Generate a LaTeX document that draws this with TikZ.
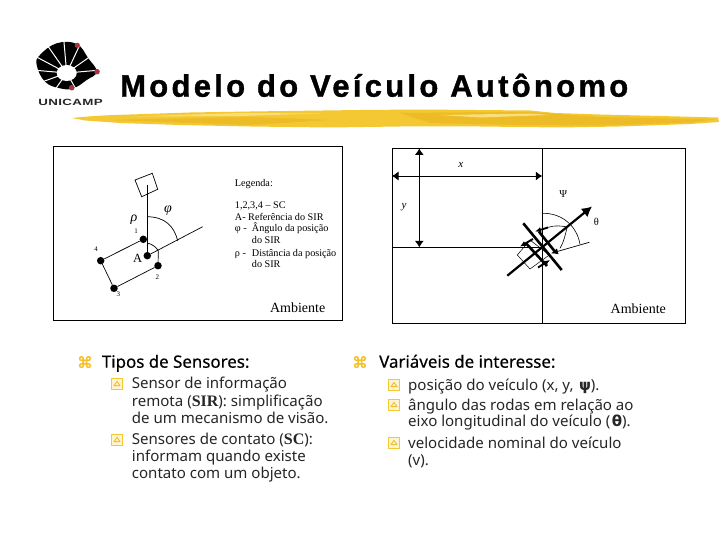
\documentclass[tikz,border=0pt]{standalone}
\usepackage{fontspec}
\setmainfont{Liberation Serif}
\newfontfamily\titlefont[LetterSpace=10.6,BoldFeatures={LetterSpace=10.6,FakeBold=1.2}]{Liberation Sans}
\newfontfamily\logofont[LetterSpace=3]{Liberation Sans}
\newfontfamily\bodyfont{Noto Sans}
\newfontfamily\headfont[FakeBold=0.4]{Noto Sans}
\newfontfamily\djv{DejaVu Sans}
\newfontfamily\bulfont[FakeBold=2.8]{DejaVu Sans}
\usetikzlibrary{arrows.meta}
\definecolor{gold}{HTML}{F3C832}
\definecolor{goldd}{HTML}{EDBB26}
\definecolor{goldl}{HTML}{F8DF7C}
\definecolor{logored}{HTML}{A8323F}
\tikzset{
  dotn/.style={circle,fill=black,inner sep=0pt,minimum size=7.5pt},
  tnode/.style={inner sep=0pt,anchor=base west},
  bodyl/.style={tnode,font=\bodyfont\fontsize{15.05}{18}\selectfont,text=black!85},
  headl/.style={tnode,font=\headfont\fontsize{16.9}{18}\selectfont,text=black},
  bullet/.style={tnode,font=\bulfont\fontsize{15.5}{16}\selectfont,text=gold!90!orange},
  legl/.style={tnode,font=\fontsize{10.2}{12}\selectfont},
  amb/.style={inner sep=0pt,font=\fontsize{14}{16}\selectfont},
  small/.style={inner sep=0pt,font=\fontsize{7}{8}\selectfont},
  framebox/.style={draw=black,line width=0.9pt},
  thin line/.style={draw=black,line width=0.7pt},
  thick bar/.style={draw=black,line width=2.6pt},
  tick/.style={draw=black,line width=1.9pt,-{Latex[length=6pt,width=5.5pt]}},
  dbl/.style={draw=black,line width=0.8pt,{Latex[length=6.5pt,width=9pt]}-{Latex[length=6.5pt,width=9pt]}},
  subbox/.style={rectangle,draw=gold,line width=1.1pt,fill=goldl!35,minimum size=10.5pt,inner sep=0pt,
    path picture={\draw[gold!85!orange,line width=0.9pt,line join=round] (path picture bounding box.center) ++(0,2.6pt) -- ++(3pt,-4.2pt) -- ++(-6pt,0) -- cycle;}},
}
\newcommand{\sirb}[1]{{\rmfamily\bfseries\fontsize{16}{18}\selectfont #1}}
\newcommand{\grb}[1]{\hspace{1.5pt}{\djv\bfseries #1}}
\begin{document}
\begin{tikzpicture}[x=1pt,y=-1pt]
\useasboundingbox (0,0) rectangle (720,540);
% brush stroke
\fill[gold] (72,118) .. controls (90,116) and (110,115) .. (130,114.5) -- (190,112.5) -- (250,111.5) -- (360,110) -- (420,109.5) -- (530,110.5) -- (555,113) -- (600,114.5) -- (660,116) -- (718,117.5) -- (719,122) -- (690,124) -- (620,126.5) -- (560,127.5) -- (480,126.5) -- (400,126.5) -- (330,127.5) -- (250,126.5) -- (180,125) -- (120,123) -- (85,120.5) -- cycle;
\fill[goldd] (400,113) -- (530,112) -- (600,117) -- (715,119.5) -- (690,122.5) -- (600,125.5) -- (520,125) -- (430,123) -- cycle;
\fill[goldd] (110,120) -- (250,117) -- (330,120) -- (250,125) -- cycle;
\fill[goldl] (130,116.5) -- (240,113) -- (320,113.5) -- (240,116) -- cycle;
\fill[goldl] (440,115) -- (530,113.5) -- (550,115) -- (480,117.5) -- cycle;
% logo
\begin{scope}
\fill[black] plot[smooth cycle,tension=0.7] coordinates {(76.7,44)(56.7,43.3)(40,55)(36.7,65)(45,81.7)(60,88.3)(73.3,88.3)(86.7,80)(96.7,71.7)(88.3,58.3)};
\coordinate (hole) at (66.7,73);
\foreach \a in {-5,-35,-65,-95,-125,-152,-175,160,125,60}
  \draw[white,line width=1pt] (hole) -- ++(\a:45);
\fill[white] (66.7,73) ellipse (10pt and 8pt);
\end{scope}
\fill[logored] (77.3,45.3) circle (2.6pt) (97,71.7) circle (2.8pt) (71.7,87.7) circle (2.8pt);
\node[tnode,font=\logofont\bfseries\fontsize{9}{10}\selectfont,xscale=1.48,transform shape,text=black!85] (logotxt) at (38,106) {UNICAMP};
% title
\node[tnode,font=\titlefont\bfseries\fontsize{31}{34}\selectfont] (title) at (120,96.7) {Modelo do Veículo Autônomo};
% left frame
\draw[framebox] (53.5,146) rectangle (342,320);
\node[dotn] (dA) at (147.3,255.7) {};
\node[dotn] (d1) at (143.3,239.3) {};
\node[dotn] (d4) at (100.7,260.7) {};
\node[dotn] (d3) at (114,288.3) {};
\node[dotn] (d2) at (158,265.7) {};
\coordinate (sirtop) at (147.3,185);
\coordinate (axisEnd) at (202.7,226.7);
\coordinate (corner2) at (158.3,250.7);
\coordinate (sa) at (135,180);
\coordinate (sb) at (152.3,173.3);
\coordinate (sc) at (157.7,189.3);
\coordinate (sd) at (141.7,196.7);
\draw[thin line] (sa) -- (sb) -- (sc) -- (sd) -- cycle;
\draw[thin line] (sirtop) -- (dA);
\draw[thin line] (dA) -- (axisEnd);
\draw[thin line] (d1) -- (d4);
\draw[thin line] (d4) -- (d3);
\draw[thin line] (d3) -- (d2);
\draw[thin line] (d2) -- (corner2);
\coordinate (phiA) at (147.3,216.7);
\coordinate (phiB) at (177.7,240.7);
\draw[thin line] (phiA) .. controls (165,217) and (174,226) .. (phiB);
\coordinate (sA) at (147.3,243);
\draw[thin line] (sA) .. controls (152,244) and (156,247) .. (corner2);
\node[inner sep=0pt,font=\itshape\fontsize{14}{16}\selectfont] (rho) at (134,220) {ρ};
\node[inner sep=0pt,font=\itshape\fontsize{14}{16}\selectfont] (phi) at (168,211) {φ};
\node[small] (l1) at (136,231) {1};
\node[small] (l4) at (96,249.3) {4};
\node[small] (l2) at (157.3,276.7) {2};
\node[small] (l3) at (118.3,294) {3};
\node[inner sep=0pt,font=\fontsize{12.5}{14}\selectfont] (lA) at (137.7,258.3) {A};
\node[legl] (g0) at (234.7,186.7) {Legenda:};
\node[legl] (g1) at (234.7,208) {1,2,3,4 – SC};
\node[legl] (g2) at (234.7,221) {A- Referência do SIR};
\node[legl] (g3) at (234.7,232) {φ -};
\node[legl] (g3b) at (251.7,232) {Ângulo da posição};
\node[legl] (g4) at (251.7,243.7) {do SIR};
\node[legl] (g5) at (234.7,256) {ρ -};
\node[legl] (g5b) at (251.7,256) {Distância da posição};
\node[legl] (g6) at (251.7,267.7) {do SIR};
\node[amb] (ambL) at (297.7,308) {Ambiente};
% right frame
\draw[framebox] (392,148.5) rectangle (685,323);
\coordinate (vt) at (542.3,148.5);
\coordinate (vb) at (542.3,323);
\coordinate (hl) at (392,247.3);
\coordinate (hr) at (542.3,247.3);
\coordinate (xl) at (392,176);
\coordinate (xr) at (542.3,176);
\coordinate (yt) at (419.3,148.5);
\coordinate (yb) at (419.3,247.3);
\draw[thin line] (vt) -- (vb);
\draw[thin line] (hl) -- (hr);
\draw[dbl] (xl) -- (xr);
\draw[dbl] (yt) -- (yb);
\node[inner sep=0pt,font=\itshape\fontsize{11}{12}\selectfont] (lx) at (460.7,165) {x};
\node[inner sep=0pt,font=\itshape\fontsize{11}{12}\selectfont] (ly) at (404,207) {y};
\node[inner sep=0pt,font=\fontsize{10.5}{12}\selectfont] (lpsi) at (563.3,194) {Ψ};
\node[inner sep=0pt,font=\fontsize{10.5}{12}\selectfont] (lth) at (596.3,222) {θ};
\node[amb] (ambR) at (638.3,309) {Ambiente};
% vehicle
\coordinate (ra) at (517.3,255);
\coordinate (rb) at (530,240);
\coordinate (rc) at (549.3,255);
\coordinate (rd) at (530,269);
\draw[draw=black,line width=0.5pt] (ra) -- (rb) -- (rc) -- (rd) -- cycle;
\coordinate (psiA) at (542.7,213.3);
\coordinate (psiB) at (580,244.3);
\draw[draw=black,line width=0.6pt] (psiA) .. controls (562,213) and (577,226) .. (psiB);
\coordinate (thA) at (548.3,227.3);
\coordinate (thM) at (567.3,227);
\coordinate (thB) at (560,248.3);
\draw[draw=black,line width=0.6pt] (thA) .. controls (555,225) and (562,226) .. (thM) .. controls (565,235) and (564,242) .. (thB);
\coordinate (ma) at (507.3,275.7);
\coordinate (mb) at (592,206.5);
\draw[draw=black,line width=2.2pt,-{Latex[length=10pt,width=11pt]}] (ma) -- (mb);
\coordinate (b1a) at (523.3,223.3);
\coordinate (b1b) at (561.7,270);
\coordinate (b2a) at (526,243.3);
\coordinate (b2b) at (547,266);
\coordinate (b3a) at (539,231.7);
\coordinate (b3b) at (555,251.7);
\draw[thick bar] (b1a) -- (b1b);
\draw[thick bar] (b2a) -- (b2b);
\draw[thick bar] (b3a) -- (b3b);
\coordinate (w1a) at (533,239);
\coordinate (w1b) at (520,246.5);
\coordinate (w2a) at (548,227.5);
\coordinate (w2b) at (535,231.5);
\coordinate (w3a) at (538,267.5);
\coordinate (w3b) at (550,260);
\draw[tick] (w1a) -- (w1b);
\draw[tick] (w2a) -- (w2b);
\draw[tick] (w3a) -- (w3b);
\coordinate (tha) at (589.3,242.3);
\coordinate (thb) at (551,253.3);
\draw[draw=black,line width=0.7pt,-{Latex[length=7pt,width=6pt]}] (tha) -- (thb);
% left text
\node[bullet] (bl) at (77,368) {⌘};
\node[headl] (tl0) at (101.7,367.7) {Tipos de Sensores:};
\node[subbox] (s1) at (117,384) {};
\node[bodyl] (t1) at (131.7,388) {Sensor de informação};
\node[bodyl] (t2) at (131.7,406.7) {remota (\sirb{SIR}): simplificação};
\node[bodyl] (t3) at (131.7,423) {de um mecanismo de visão.};
\node[subbox] (s2) at (117,440) {};
\node[bodyl] (t4) at (131.7,444) {Sensores de contato (\sirb{SC}):};
\node[bodyl] (t5) at (131.7,461.7) {informam quando existe};
\node[bodyl] (t6) at (131.7,478) {contato com um objeto.};
% right text
\node[bullet] (br) at (352,368) {⌘};
\node[headl] (tr0) at (379,367.7) {Variáveis de interesse:};
\node[subbox] (s3) at (394,385) {};
\node[bodyl] (r1) at (408,390) {posição do veículo (x, y, \grb{ψ}).};
\node[subbox] (s4) at (394,405) {};
\node[bodyl] (r2) at (408,410) {ângulo das rodas em relação ao};
\node[bodyl] (r3) at (408,426.7) {eixo longitudinal do veículo (\grb{θ}).};
\node[subbox] (s5) at (394,443) {};
\node[bodyl] (r4) at (408,448) {velocidade nominal do veículo};
\node[bodyl] (r5) at (408,465) {(v).};
\end{tikzpicture}
\end{document}
